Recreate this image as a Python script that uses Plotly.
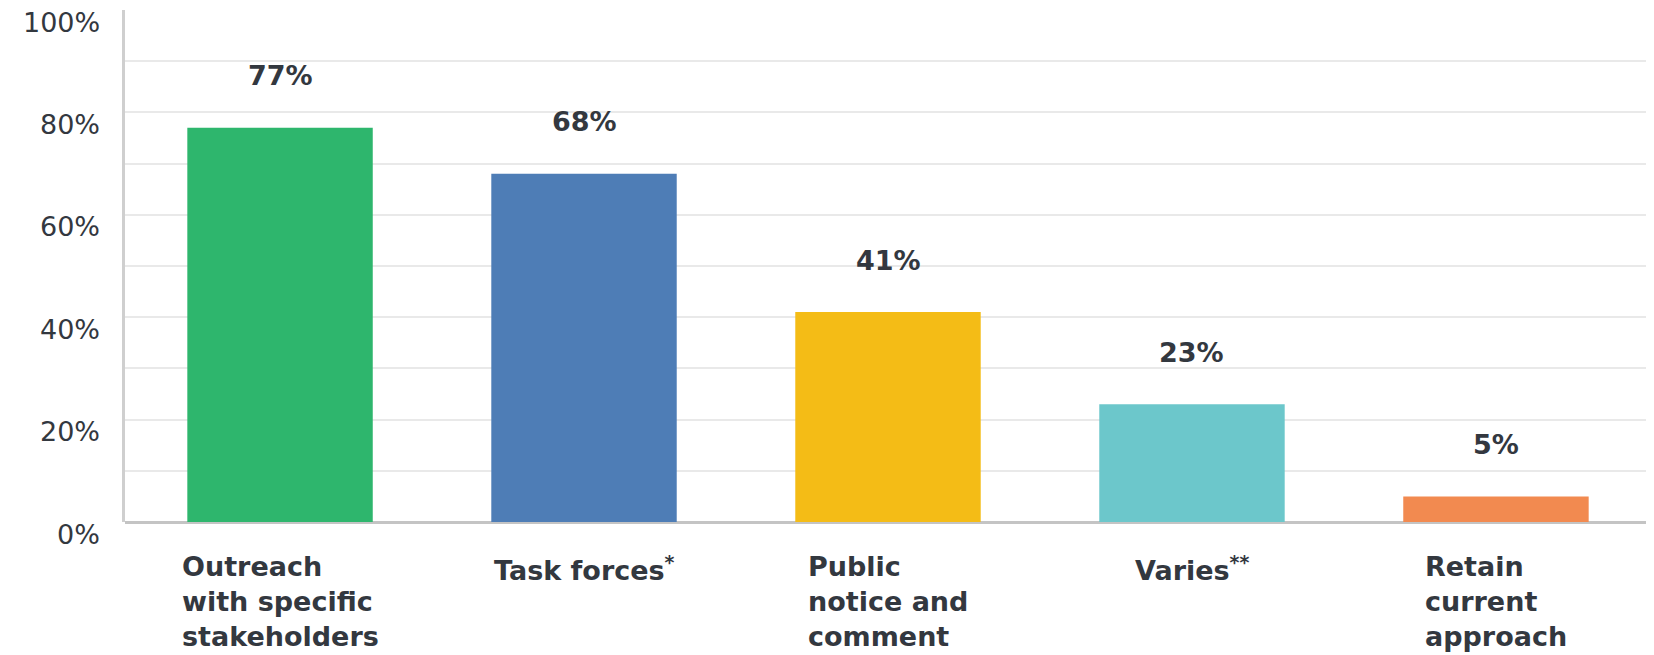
import plotly.graph_objects as go

categories = ["Outreach<br>with specific<br>stakeholders", "Task forces<sup>*</sup>",
              "Public<br>notice and<br>comment", "Varies<sup>**</sup>", "Retain<br>current<br>approach"]
values = [77, 68, 41, 23, 5]
value_labels = ["77%", "68%", "41%", "23%", "5%"]
colors = ["#2EB66D", "#4E7DB6", "#F4BC16", "#6CC7CB", "#F28A50"]
ytick_vals = [0, 20, 40, 60, 80, 100]
ytick_text = ["0%", "20%", "40%", "60%", "80%", "100%"]
grid_vals = [0, 10, 20, 30, 40, 50, 60, 70, 80, 90]

FONT = "DejaVu Sans"
TXT = "#33383f"

x_idx = list(range(len(categories)))

fig = go.Figure(go.Bar(x=x_idx, y=values, marker=dict(color=colors, line=dict(width=0)),
                       hoverinfo="skip"))

ann = []
for i, (v, t) in enumerate(zip(values, value_labels)):
    ann.append(dict(x=i, y=v, xref="x", yref="y", text="<b>" + t + "</b>", showarrow=False,
                    xanchor="center", yanchor="middle", yshift=52,
                    font=dict(family=FONT, size=27, color=TXT)))
for i, c in enumerate(categories):
    ann.append(dict(x=i, y=0, xref="x", yref="y", text="<b>" + c + "</b>", showarrow=False,
                    xanchor="center", yanchor="top", align="left", yshift=-27,
                    font=dict(family=FONT, size=27, color=TXT)))
for v, t in zip(ytick_vals, ytick_text):
    ann.append(dict(x=0, y=v, xref="paper", yref="y", text=t, showarrow=False,
                    xanchor="right", yanchor="middle", xshift=-23, yshift=-12,
                    font=dict(family=FONT, size=27, color=TXT)))

fig.update_layout(
    width=1654, height=655,
    margin=dict(l=117, r=11, t=2, b=141),
    paper_bgcolor="white", plot_bgcolor="white",
    bargap=0.39, showlegend=False,
    annotations=ann,
    xaxis=dict(range=[-0.51, 4.51], showticklabels=False, showgrid=False, zeroline=False,
               showline=False, ticks=""),
    yaxis=dict(range=[0, 100], tickmode="array", tickvals=grid_vals, showticklabels=False,
               showgrid=True, gridcolor="#e9e9e9", gridwidth=2, zeroline=True,
               zerolinecolor="#c4c4c4", zerolinewidth=3, showline=True, linecolor="#cfcfcf",
               linewidth=3, ticks=""),
)

fig.write_html("out.html")
